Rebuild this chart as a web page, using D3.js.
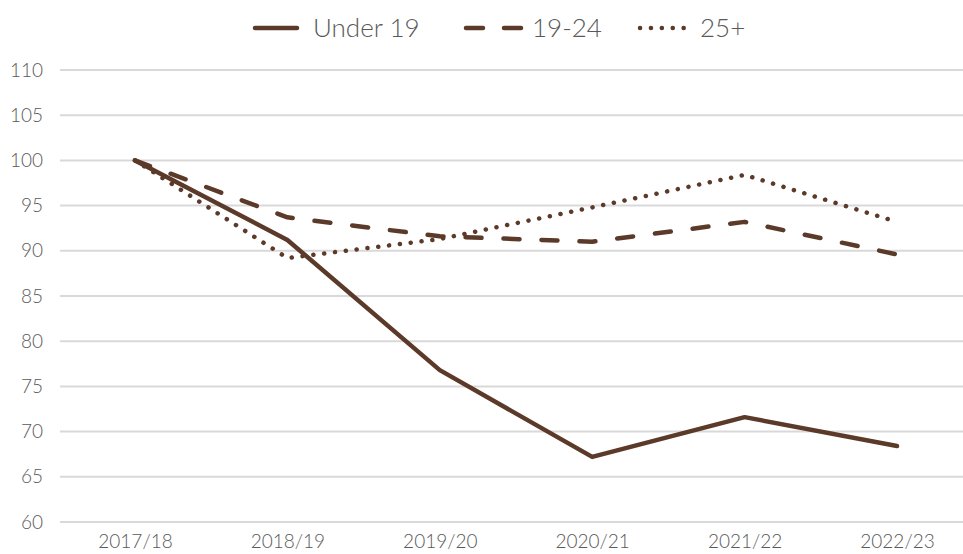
<!DOCTYPE html>
<html>
<head>
<meta charset="utf-8">
<script src="https://cdn.jsdelivr.net/npm/d3@7"></script>
<style>
  body { margin: 0; background: #fff; }
  text { font-family: Lato, "Open Sans", sans-serif; fill: #595959; font-weight: 300; }
  .grid line { stroke: #d9d9d9; stroke-width: 2; }
  .series { fill: none; stroke: #5b3a29; stroke-width: 4.5; stroke-linejoin: round; }
</style>
</head>
<body>
<svg id="chart" width="963" height="554"></svg>
<script>
var years = ["2017/18", "2018/19", "2019/20", "2020/21", "2021/22", "2022/23"];
var under19 = [100, 91.2, 76.8, 67.2, 71.6, 68.4];
var age19to24 = [100, 93.7, 91.6, 91.0, 93.2, 89.6];
var age25plus = [100, 89.2, 91.3, 94.8, 98.4, 93.2];
var seriesNames = ["Under 19", "19-24", "25+"];
var yTicks = [60, 65, 70, 75, 80, 85, 90, 95, 100, 105, 110];

var svg = d3.select("#chart"),
    width = +svg.attr("width"),
    height = +svg.attr("height");

var x = d3.scalePoint()
    .domain(years)
    .range([135, 897]);

var y = d3.scaleLinear()
    .domain([60, 110])
    .range([522, 70]);

// gridlines
svg.append("g")
    .attr("class", "grid")
  .selectAll("line")
  .data(yTicks)
  .enter().append("line")
    .attr("x1", 60)
    .attr("x2", width)
    .attr("y1", function(d) { return y(d); })
    .attr("y2", function(d) { return y(d); });

// y axis labels
svg.append("g")
    .call(d3.axisLeft(y).tickValues(yTicks).tickSize(0).tickPadding(0))
    .attr("transform", "translate(43,0)")
    .call(function(g) { g.select(".domain").remove(); })
    .selectAll("text")
    .attr("font-size", 19)
    .style("font-family", "Lato, sans-serif")
    .attr("fill", "#595959");

// x axis labels
svg.append("g")
    .attr("transform", "translate(0,522)")
    .call(d3.axisBottom(x).tickSize(0).tickPadding(13))
    .call(function(g) { g.select(".domain").remove(); })
    .selectAll("text")
    .attr("font-size", 19)
    .style("font-family", "Lato, sans-serif")
    .attr("fill", "#595959");

var dashes = ["none", "16,22", "0.1,10.8"];
var data = [under19, age19to24, age25plus];

var line = d3.line()
    .x(function(d, i) { return x(years[i]); })
    .y(function(d) { return y(d); });

svg.selectAll(".series")
    .data(data)
  .enter().append("path")
    .attr("class", "series")
    .attr("d", line)
    .attr("stroke-dasharray", function(d, i) { return dashes[i]; })
    .attr("stroke-linecap", "round");

// legend
var legendX = [255, 466, 640];
var legendLen = [42, 55, 45];
var legend = svg.append("g").attr("transform", "translate(0,28)");

var item = legend.selectAll(".item")
    .data(seriesNames)
  .enter().append("g")
    .attr("class", "item")
    .attr("transform", function(d, i) { return "translate(" + legendX[i] + ",0)"; });

item.append("line")
    .attr("class", "series")
    .attr("x1", 0)
    .attr("x2", function(d, i) { return legendLen[i]; })
    .attr("y1", 0)
    .attr("y2", 0)
    .attr("stroke-dasharray", function(d, i) { return i === 1 ? "17,21" : dashes[i]; })
    .attr("stroke-linecap", "round");

item.append("text")
    .attr("x", function(d, i) { return [58, 66, 60][i]; })
    .attr("dy", "0.36em")
    .attr("font-size", 26)
    .text(function(d) { return d; });
</script>
</body>
</html>
